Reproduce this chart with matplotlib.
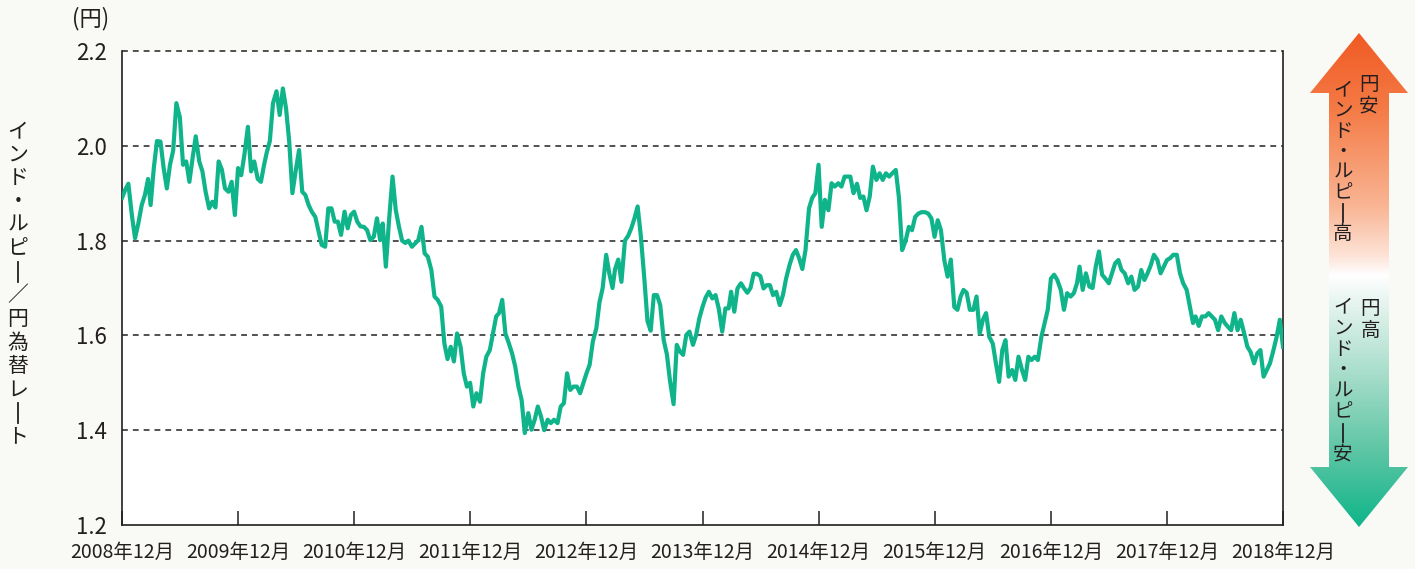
import numpy as np
import pandas as pd
import matplotlib
matplotlib.use('Agg')
import matplotlib.pyplot as plt
from matplotlib.colors import LinearSegmentedColormap
from matplotlib.patches import Polygon
from matplotlib.lines import Line2D

plt.rcParams['font.family'] = ['Noto Sans CJK JP', 'DejaVu Sans']

################################################################################
# INR/JPY, read every ~10 days (1st, 11th, 21st); each list runs Dec -> Nov
rate_2009 = [1.890, 1.907, 1.920, 1.854, 1.805, 1.835, 1.875, 1.896, 1.930, 1.875,
             1.953, 2.010, 2.009, 1.953, 1.910, 1.960, 1.990, 2.090, 2.060, 1.960,
             1.967, 1.924, 1.974, 2.020, 1.967, 1.946, 1.903, 1.868, 1.882, 1.870,
             1.967, 1.950, 1.910, 1.903, 1.924, 1.854]
rate_2010 = [1.953, 1.938, 1.981, 2.040, 1.946, 1.967, 1.930, 1.924, 1.960, 1.985,
             2.010, 2.090, 2.115, 2.065, 2.121, 2.079, 2.009, 1.900, 1.950, 1.991,
             1.903, 1.896, 1.875, 1.861, 1.850, 1.820, 1.791, 1.787, 1.868, 1.868,
             1.840, 1.840, 1.812, 1.861, 1.826, 1.854]
rate_2011 = [1.861, 1.840, 1.830, 1.829, 1.822, 1.801, 1.808, 1.847, 1.801, 1.836,
             1.745, 1.843, 1.935, 1.865, 1.830, 1.800, 1.795, 1.800, 1.787, 1.794,
             1.801, 1.829, 1.773, 1.766, 1.738, 1.682, 1.675, 1.661, 1.583, 1.550,
             1.576, 1.545, 1.604, 1.576, 1.520, 1.492]
rate_2012 = [1.500, 1.450, 1.478, 1.460, 1.520, 1.555, 1.569, 1.604, 1.640, 1.647,
             1.675, 1.604, 1.583, 1.562, 1.534, 1.492, 1.464, 1.394, 1.436, 1.401,
             1.422, 1.450, 1.429, 1.400, 1.422, 1.415, 1.422, 1.415, 1.450, 1.457,
             1.520, 1.485, 1.492, 1.492, 1.478, 1.499]
rate_2013 = [1.520, 1.538, 1.587, 1.615, 1.670, 1.700, 1.770, 1.730, 1.700, 1.740,
             1.760, 1.713, 1.800, 1.810, 1.826, 1.847, 1.872, 1.810, 1.720, 1.630,
             1.610, 1.685, 1.685, 1.664, 1.590, 1.560, 1.503, 1.455, 1.580, 1.566,
             1.559, 1.601, 1.608, 1.580, 1.601, 1.636]
rate_2014 = [1.660, 1.680, 1.692, 1.678, 1.685, 1.657, 1.608, 1.657, 1.657, 1.692,
             1.650, 1.699, 1.710, 1.699, 1.690, 1.700, 1.730, 1.730, 1.725, 1.699,
             1.706, 1.706, 1.685, 1.692, 1.664, 1.685, 1.720, 1.749, 1.770, 1.780,
             1.763, 1.740, 1.780, 1.868, 1.890, 1.900]
rate_2015 = [1.960, 1.829, 1.886, 1.864, 1.921, 1.914, 1.921, 1.914, 1.935, 1.935,
             1.935, 1.900, 1.920, 1.890, 1.893, 1.864, 1.893, 1.956, 1.928, 1.942,
             1.928, 1.942, 1.935, 1.942, 1.949, 1.890, 1.780, 1.800, 1.829, 1.822,
             1.850, 1.857, 1.860, 1.860, 1.857, 1.847]
rate_2016 = [1.808, 1.843, 1.822, 1.757, 1.724, 1.760, 1.660, 1.654, 1.682, 1.696,
             1.690, 1.654, 1.654, 1.682, 1.604, 1.633, 1.647, 1.597, 1.583, 1.541,
             1.502, 1.569, 1.590, 1.513, 1.527, 1.506, 1.555, 1.527, 1.506, 1.555,
             1.548, 1.555, 1.548, 1.597, 1.626, 1.654]
rate_2017 = [1.720, 1.728, 1.717, 1.696, 1.654, 1.689, 1.682, 1.689, 1.710, 1.745,
             1.696, 1.731, 1.703, 1.700, 1.745, 1.777, 1.728, 1.720, 1.710, 1.731,
             1.752, 1.759, 1.738, 1.731, 1.710, 1.724, 1.696, 1.703, 1.738, 1.717,
             1.731, 1.748, 1.770, 1.759, 1.731, 1.745]
rate_2018 = [1.759, 1.763, 1.770, 1.770, 1.731, 1.710, 1.696, 1.661, 1.626, 1.640,
             1.620, 1.640, 1.640, 1.647, 1.640, 1.633, 1.611, 1.640, 1.626, 1.618,
             1.611, 1.647, 1.611, 1.633, 1.604, 1.576, 1.565, 1.541, 1.562, 1.569,
             1.513, 1.527, 1.541, 1.569, 1.597, 1.633]
rate_last = [1.576]

yticks = [1.2, 1.4, 1.6, 1.8, 2.0, 2.2]
tick_years = list(range(2008, 2019))
ylabel_text = 'インド・ルピー／円為替レート'
upper_text = ['円安', 'インド・ルピー高']
lower_text = ['円高', 'インド・ルピー安']

################################################################################
rates = np.array(rate_2009 + rate_2010 + rate_2011 + rate_2012 + rate_2013 +
                 rate_2014 + rate_2015 + rate_2016 + rate_2017 + rate_2018 + rate_last)
months = pd.period_range('2008-12', '2018-11', freq='M')
dates = [pd.Timestamp(p.year, p.month, d) for p in months for d in (1, 11, 21)]
dates.append(pd.Timestamp('2018-12-01'))

W, H = 1415, 569
txtc = '#231f20'
green = '#10b48a'

fig = plt.figure(figsize=(W/100, H/100), dpi=100, facecolor='#f9f9f5')
ax = fig.add_axes([122/W, 1-525/H, (1283-122)/W, (525-51)/H])
ax.set_facecolor('white')

for v in yticks[1:]:
    ax.axhline(v, color='#333333', lw=1.2, ls=(0, (3.5, 3)), zorder=1, clip_on=False)

ax.plot(dates, rates, color=green, lw=3.0, zorder=3, solid_joinstyle='round')

ax.set_ylim(1.2, 2.2)
ax.set_xlim(pd.Timestamp('2008-12-01'), pd.Timestamp('2018-12-01'))
ax.set_yticks(yticks)
ax.set_yticklabels(['%.1f' % v for v in yticks], fontsize=16, color=txtc)
ax.set_xticks([pd.Timestamp(y, 12, 1) for y in tick_years])
ax.set_xticklabels(['%d年12月' % y for y in tick_years], fontsize=14, color=txtc)
ax.tick_params(axis='y', length=0, pad=11)
ax.tick_params(axis='x', direction='in', length=10, width=1.1, color=txtc, pad=12)
ax.spines['top'].set_visible(False)
for s in ['left', 'right', 'bottom']:
    ax.spines[s].set_color(txtc)
    ax.spines[s].set_linewidth(1.2)

fig.text(91/W, 1-19/H, '(円)', fontsize=16, color=txtc, ha='center', va='center')


def vtext(x, y0, s, step, size):
    # stack characters top-to-bottom (pixel coords of the figure)
    for i, ch in enumerate(s):
        y = y0 + i*step
        if ch == 'ー':
            # long vowel mark in vertical writing is a vertical bar
            half = 0.42*step
            fig.add_artist(Line2D([x/W, x/W], [1-(y-half)/H, 1-(y+half)/H],
                                  transform=fig.transFigure, color=txtc, lw=1.3))
            continue
        fig.text(x/W, 1-y/H, ch, fontsize=size, color=txtc,
                 ha='center', va='center')


vtext(18, 131, ylabel_text, 23.5, 15)

# gradient double arrow on the right
x0, x1, y0, y1 = 1308, 1410, 31, 529
aax = fig.add_axes([x0/W, 1-y1/H, (x1-x0)/W, (y1-y0)/H])
aax.set_xlim(x0, x1)
aax.set_ylim(y1, y0)
aax.axis('off')
cmap = LinearSegmentedColormap.from_list('arr', [
    (0.0, '#f15a24'), (0.15, '#f47a45'), (0.35, '#f9b594'), (0.45, '#fde3d6'),
    (0.49, '#ffffff'), (0.53, '#edf7f3'), (0.7, '#a3dcc8'), (0.85, '#5cc5a4'),
    (1.0, '#0fb58a')])
grad = np.linspace(0, 1, 512).reshape(-1, 1)
im = aax.imshow(grad, aspect='auto', cmap=cmap, extent=(x0, x1, 527, 33))
cx = 1359
verts = [(cx, 33), (1408, 93), (1389, 93), (1389, 467), (1408, 467), (cx, 527),
         (1310, 467), (1329, 467), (1329, 93), (1310, 93)]
poly = Polygon(verts, closed=True, transform=aax.transData, fc='none', ec='none')
aax.add_patch(poly)
im.set_clip_path(poly)

vtext(1369, 84, upper_text[0], 22, 14)
vtext(1343, 90, upper_text[1], 20.5, 14)
vtext(1370, 309, lower_text[0], 22, 14)
vtext(1343, 307, lower_text[1], 21, 14)

plt.savefig('out.png', dpi=100, facecolor=fig.get_facecolor())
